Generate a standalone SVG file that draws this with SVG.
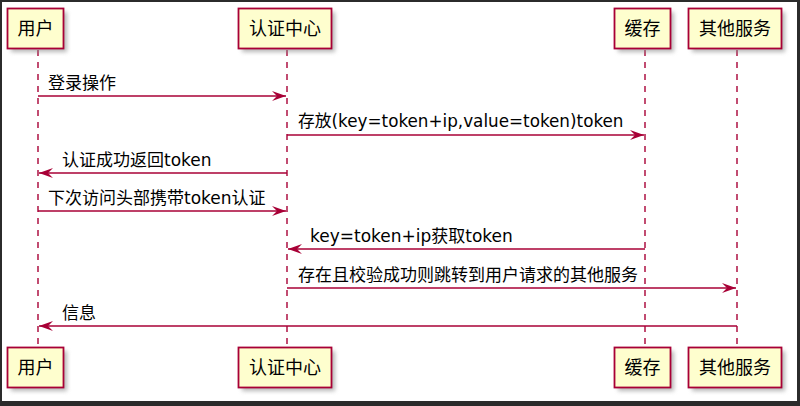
<svg xmlns="http://www.w3.org/2000/svg" width="800" height="406" viewBox="0 0 800 406">
<defs>
<filter id="sh" x="-20%" y="-20%" width="150%" height="160%">
<feGaussianBlur stdDeviation="2"/>
</filter>
<marker id="ah" viewBox="0 0 14 10" refX="14" refY="5" markerWidth="14" markerHeight="10" markerUnits="userSpaceOnUse" orient="auto">
<polygon points="0,0 14,5 0,10 5,5" fill="#A80036"/>
</marker>
</defs>
<style>
.box{fill:#FEFECE;stroke:#A80036;stroke-width:1.8}
.shd{fill:#888;opacity:0.6;filter:url(#sh)}
.pt{font-family:"DejaVu Sans","Noto Sans CJK SC",sans-serif;font-size:18px;fill:#000;text-anchor:middle}
.life{stroke:#A80036;stroke-width:1.4;stroke-dasharray:6,6;fill:none}
.msg{stroke:#A80036;stroke-width:1.5;fill:none;marker-end:url(#ah)}
.mt{font-family:"DejaVu Sans","Noto Sans CJK SC",sans-serif;font-size:17px;fill:#000}
</style>
<rect x="0" y="0" width="800" height="406" fill="#2b2b2b"/>
<rect x="2" y="2" width="795" height="399" fill="#FFFFFF"/>

<g id="lifelines">
<line class="life" x1="38" y1="50" x2="38" y2="346"/>
<line class="life" x1="287" y1="50" x2="287" y2="346"/>
<line class="life" x1="645" y1="50" x2="645" y2="346"/>
<line class="life" x1="737" y1="50" x2="737" y2="346"/>
</g>

<g id="p-user">
<rect class="shd" x="11" y="12" width="56" height="40"/>
<rect class="box" x="7.5" y="8.5" width="56" height="40"/>
<text class="pt" x="35.5" y="35">用户</text>
<rect class="shd" x="11" y="351" width="56" height="40"/>
<rect class="box" x="7.5" y="347.5" width="56" height="40"/>
<text class="pt" x="35.5" y="374">用户</text>
</g>

<g id="p-auth">
<rect class="shd" x="242" y="12" width="93" height="40"/>
<rect class="box" x="238.5" y="8.5" width="93" height="40"/>
<text class="pt" x="285" y="35">认证中心</text>
<rect class="shd" x="242" y="351" width="93" height="40"/>
<rect class="box" x="238.5" y="347.5" width="93" height="40"/>
<text class="pt" x="285" y="374">认证中心</text>
</g>

<g id="p-cache">
<rect class="shd" x="618" y="12" width="56" height="40"/>
<rect class="box" x="614.5" y="8.5" width="56" height="40"/>
<text class="pt" x="642.5" y="35">缓存</text>
<rect class="shd" x="618" y="351" width="56" height="40"/>
<rect class="box" x="614.5" y="347.5" width="56" height="40"/>
<text class="pt" x="642.5" y="374">缓存</text>
</g>

<g id="p-other">
<rect class="shd" x="692" y="12" width="93" height="40"/>
<rect class="box" x="688.5" y="8.5" width="93" height="40"/>
<text class="pt" x="735" y="35">其他服务</text>
<rect class="shd" x="692" y="351" width="93" height="40"/>
<rect class="box" x="688.5" y="347.5" width="93" height="40"/>
<text class="pt" x="735" y="374">其他服务</text>
</g>

<g id="connectors">
<line class="msg" x1="38" y1="96" x2="286" y2="96"/>
<line class="msg" x1="287" y1="135" x2="644" y2="135"/>
<line class="msg" x1="287" y1="173" x2="39" y2="173"/>
<line class="msg" x1="38" y1="211" x2="286" y2="211"/>
<line class="msg" x1="645" y1="249" x2="288" y2="249"/>
<line class="msg" x1="287" y1="288" x2="736" y2="288"/>
<line class="msg" x1="737" y1="326" x2="39" y2="326"/>
</g>

<g id="labels">
<text class="mt" x="48" y="89">登录操作</text>
<text class="mt" x="298" y="127" style="font-size:16.8px">存放(key=token+ip,value=token)token</text>
<text class="mt" x="62" y="166">认证成功返回token</text>
<text class="mt" x="48" y="204">下次访问头部携带token认证</text>
<text class="mt" x="310" y="242">key=token+ip获取token</text>
<text class="mt" x="298" y="281">存在且校验成功则跳转到用户请求的其他服务</text>
<text class="mt" x="62" y="319">信息</text>
</g>
</svg>
